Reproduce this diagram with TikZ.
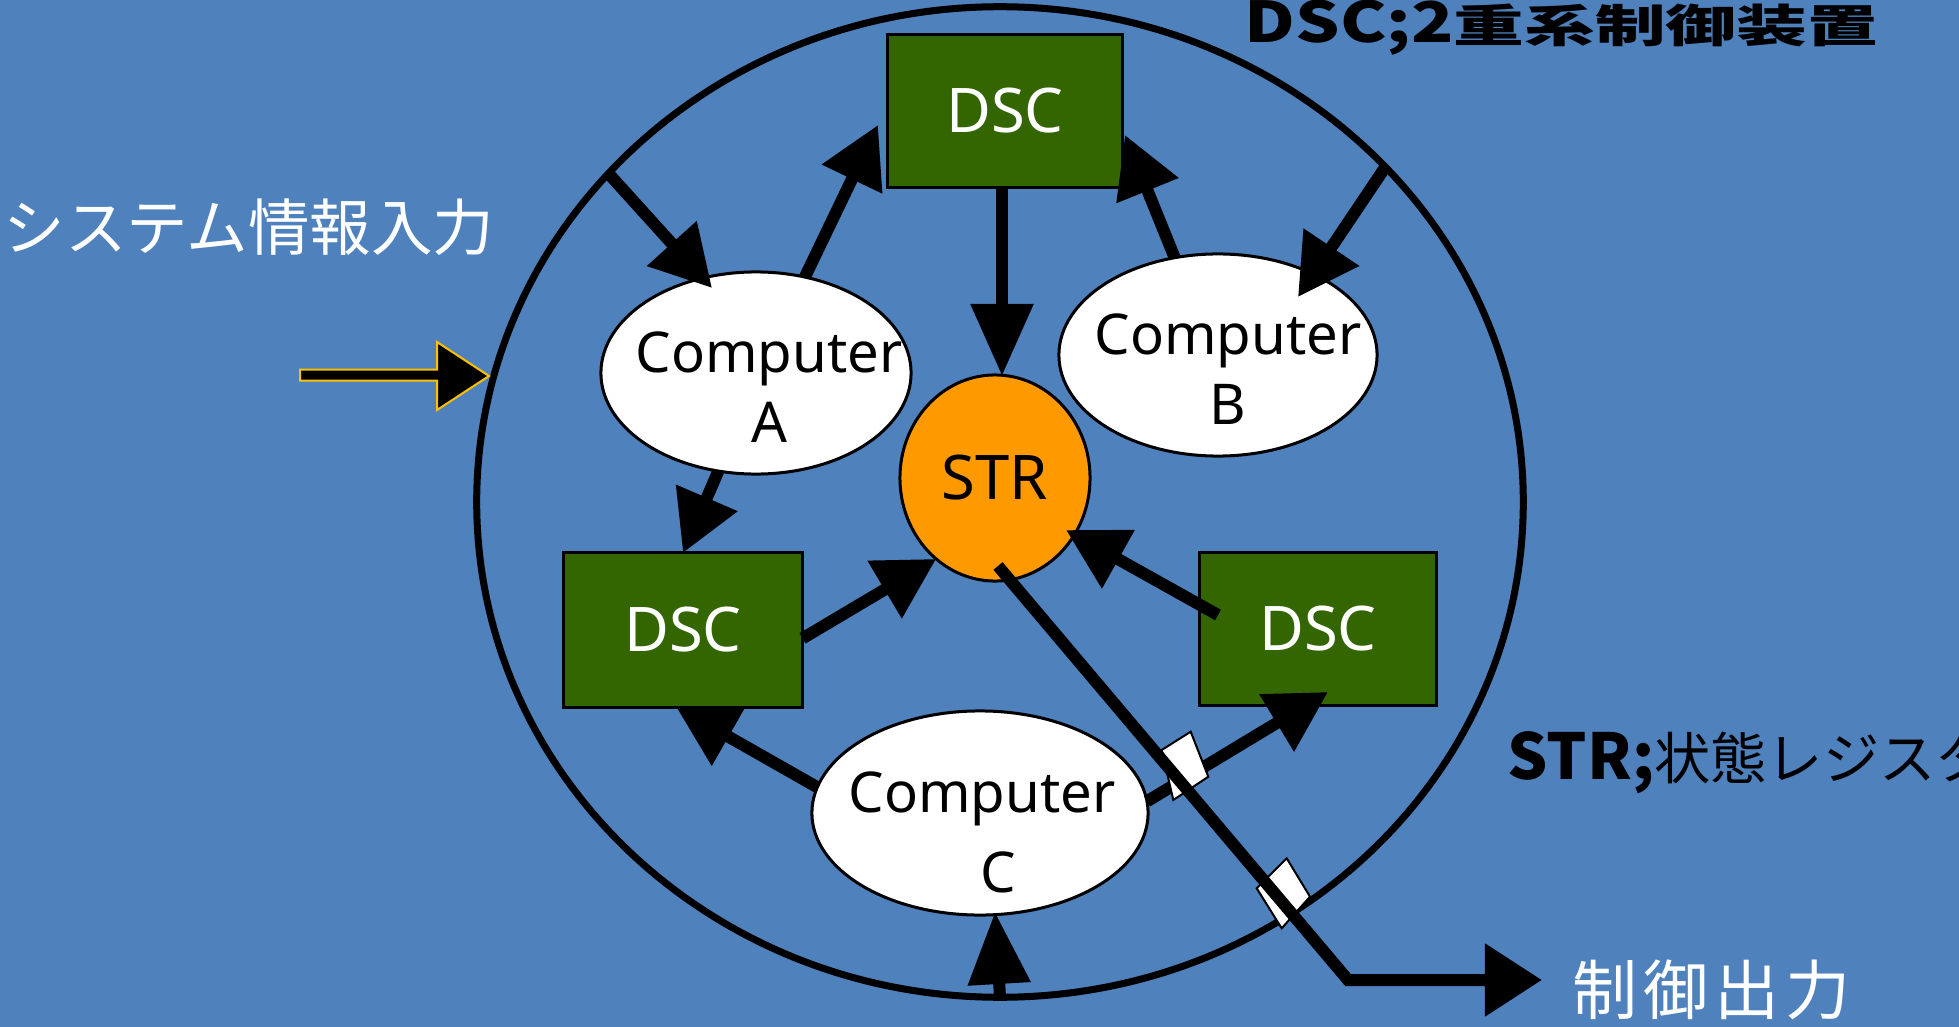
\documentclass[tikz,border=0pt]{standalone}
\usepackage{graphicx}
\usepackage{fontspec}
\setmainfont{Noto Sans}
\newfontfamily\jpfont{Noto Sans CJK JP}
\usetikzlibrary{arrows.meta,shapes.geometric,calc}
\definecolor{bgblue}{HTML}{4F81BD}
\definecolor{dscgreen}{HTML}{336600}
\definecolor{strorange}{HTML}{FF9900}
\definecolor{inputgold}{HTML}{FFC000}

\begin{document}
\begin{tikzpicture}[x=0.01cm,y=-0.01cm,
  ringshape/.style={ellipse, draw=black, line width=0.07cm, minimum width=10.46cm,
    minimum height=9.90cm, inner sep=0pt, outer sep=0pt},
  dscbox/.style={rectangle, draw=black, line width=0.03cm, fill=dscgreen, text=white,
    font=\fontsize{17.5}{21}\selectfont, inner sep=0pt, outer sep=0pt},
  comp/.style={ellipse, draw=black, line width=0.03cm, fill=white, inner sep=0pt, outer sep=0pt},
  complabel/.style={align=center, font=\fontsize{16}{19.9}\selectfont, inner sep=0pt},
  strnode/.style={ellipse, draw=black, line width=0.03cm, fill=strorange,
    font=\fontsize{17.5}{21}\selectfont, minimum width=1.90cm, minimum height=2.06cm,
    inner sep=0pt, outer sep=0pt},
  flow/.style={line width=0.12cm, -{Triangle[length=0.6cm,width=0.64cm]}},
  longflow/.style={line width=0.12cm, -{Triangle[length=0.72cm,width=0.6cm]}},
  jumper/.style={fill=white, draw=black, line width=0.02cm},
]
% canvas
\fill[bgblue] (0,0) rectangle (1959,1027);
\useasboundingbox (0,0) rectangle (1959,1027);

% outer boundary of the dual-system controller
\node[ringshape] (ring) at (1000,502) {};

% blocks
\node[dscbox, minimum width=2.35cm, minimum height=1.53cm] (dsct) at (1005,111) {DSC};
\node[dscbox, minimum width=2.39cm, minimum height=1.54cm] (dscl) at (683,630) {DSC};
\node[dscbox, minimum width=2.36cm, minimum height=1.53cm] (dscr) at (1318,629) {DSC};
\node[comp, minimum width=3.10cm, minimum height=2.02cm] (compa) at (756,373) {};
\node[comp, minimum width=3.18cm, minimum height=2.02cm] (compb) at (1218,355) {};
\node[comp, minimum width=3.36cm, minimum height=2.04cm] (compc) at (980,813) {};
\node[strnode] (str) at (995,478) {STR};

\node[complabel] (compatext) at ($(compa.center)+(13,14)$) {Computer\\A\hspace{0.14cm}};
\node[complabel] (compbtext) at ($(compb.center)+(10,14)$) {Computer\\B\hspace{0.14cm}};
\node[complabel] (compctext) at ($(compc.center)+(2,19)$) {Computer\\[0.1cm]\hspace{0.32cm}C};

% arrow end points
\coordinate (t1) at (712,288);
\coordinate (t2) at (878,125);
\coordinate (t3) at (1002,376);
\coordinate (t4) at (1125,135);
\coordinate (t5) at (1298,297);
\coordinate (s8) at (1218,615);
\coordinate (t8) at (1066,530);
\coordinate (t10) at (1328,692);
\coordinate (t11) at (995,912);
\coordinate (s12) at (998,566);
\coordinate (bend) at (1348,980);
\coordinate (t12) at (1542,980);

% connections
\draw[flow] (ring.140) -- (t1);
\draw[flow] (compa.63) -- (t2);
\draw[longflow] (t3 |- dsct.south) -- (t3);
\draw[flow] (compb.114) -- (t4);
\draw[flow] (ring.41) -- (t5);
\draw[flow] (compa.-111) -- (dscl.north);
\draw[flow] (dscl.-4) -- (str.234);
\draw[flow] (s8) -- (t8);
\draw[flow] (compc.171) -- (dscl.-95);
\draw[flow] (compc.4) -- (t10);
\draw[longflow] (ring.south) -- (t11);

% crossing markers
\draw[jumper] (1161.7,750) -- (1190.7,731.7) -- (1208.3,776.7) -- (1173.3,800) -- cycle;
\draw[jumper] (1256.7,888.3) -- (1286.7,858.3) -- (1310,896.7) -- (1281.7,928.3) -- cycle;

% control output
\draw[line width=0.12cm, -{Triangle[length=0.57cm,width=0.70cm]}] (s12) -- (bend) -- (t12);

% system information input
\draw[fill=black, draw=inputgold, line width=0.02cm]
  (300,369.5) -- (437,369.5) -- (437,342) -- (489,376) -- (437,410)
  -- (437,380.5) -- (300,380.5) -- cycle;

% captions
\node[anchor=base west, inner sep=0pt, font=\jpfont\bfseries] (titlelabel) at (1244,43)
  {\scalebox{1.24}[1]{\fontsize{16}{19}\selectfont DSC;2}\scalebox{1.57}[1]{\fontsize{12.8}{15}\selectfont 重系制御装置}};
\node[anchor=base west, inner sep=0pt, font=\jpfont] (strlabel) at (1507,779)
  {{\bfseries\fontsize{18}{21}\selectfont STR;}{\fontsize{16}{19}\selectfont 状態レジスタ}};
\node[anchor=base west, inner sep=0pt, text=white, font=\jpfont\fontsize{17.5}{21}\selectfont]
  (inlabel) at (3,250) {システム情報入力};
\node[anchor=base west, inner sep=0pt, text=white, font=\jpfont\fontsize{18.5}{22}\selectfont]
  (outlabel) at (1572,1014) {制\hspace{0.06cm}御\hspace{0.06cm}出\hspace{0.06cm}力};
\end{tikzpicture}
\end{document}
